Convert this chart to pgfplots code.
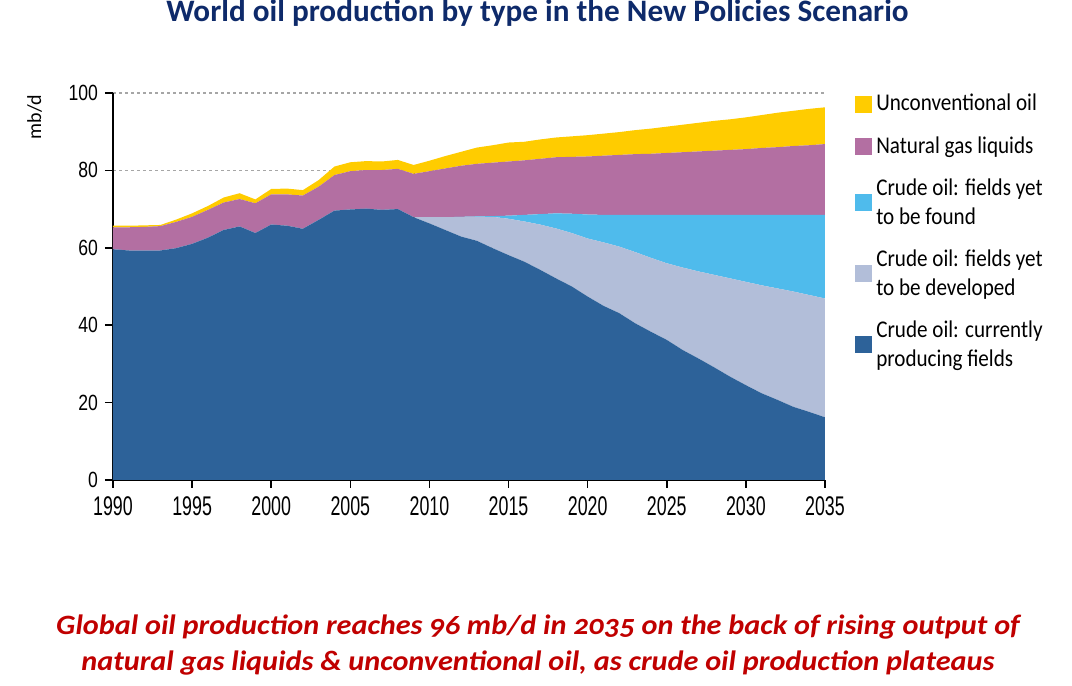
\documentclass[border=0pt]{standalone}
\usepackage{fontspec}
\setmainfont{Carlito}
\newfontfamily\ticksx[FakeStretch=0.66]{Liberation Sans}
\newfontfamily\ticksy[FakeStretch=0.8]{Liberation Sans}
\newfontfamily\legfont[FakeStretch=0.88]{Carlito}
\newfontfamily\capfont[Numbers=OldStyle,FakeStretch=1.08]{Carlito}
\newfontfamily\titfont[FakeStretch=1.0]{Carlito}
\usepackage{pgfplots}
\usepackage{pgfplotstable}
\pgfplotsset{compat=1.18}
\definecolor{cprod}{HTML}{2D6299}
\definecolor{cdev}{HTML}{B2BED9}
\definecolor{cfound}{HTML}{4FBBEC}
\definecolor{cngl}{HTML}{B36FA2}
\definecolor{cunc}{HTML}{FFCC00}
\definecolor{ctitle}{HTML}{0E2A6A}
\definecolor{ccap}{HTML}{C00000}

\pgfplotstableread{
year prod dev found ngl unconv
1990 59.6 0 0 5.7 0.4
1991 59.3 0 0 6.0 0.4
1992 59.3 0 0 6.1 0.4
1993 59.3 0 0 6.3 0.3
1994 59.9 0 0 6.8 0.6
1995 61.0 0 0 7.0 0.9
1996 62.6 0 0 7.2 1.0
1997 64.6 0 0 7.1 1.3
1998 65.5 0 0 7.1 1.5
1999 63.8 0 0 7.7 1.0
2000 66.0 0 0 7.8 1.4
2001 65.7 0 0 8.1 1.5
2002 64.9 0 0 8.6 1.4
2003 67.2 0 0 8.6 1.7
2004 69.6 0 0 9.2 2.2
2005 69.9 0 0 9.9 2.3
2006 70.1 0 0 10.0 2.3
2007 69.8 0 0 10.3 2.2
2008 70.0 0 0 10.4 2.3
2009 67.9 0 0 11.2 2.3
2010 66.3 1.6 0 11.9 2.7
2011 64.6 3.3 0 12.6 3.2
2012 62.9 5.1 0 13.2 3.6
2013 61.8 6.2 0.1 13.6 4.2
2014 59.9 8.1 0.2 13.8 4.5
2015 58.1 9.4 0.8 14.0 4.9
2016 56.4 10.4 1.7 14.1 4.8
2017 54.3 11.7 2.7 14.3 5.0
2018 52.1 12.9 3.9 14.5 5.1
2019 50.0 13.8 5.0 14.7 5.3
2020 47.4 15.0 6.2 15.0 5.5
2021 45.0 16.4 7.1 15.3 5.7
2022 43.1 17.2 8.2 15.5 5.9
2023 40.5 18.4 9.6 15.7 6.2
2024 38.3 19.1 11.1 15.8 6.5
2025 36.2 19.8 12.5 16.0 6.8
2026 33.6 21.3 13.6 16.2 7.1
2027 31.4 22.5 14.6 16.4 7.4
2028 29.1 23.9 15.5 16.6 7.7
2029 26.7 25.4 16.4 16.8 7.9
2030 24.5 26.7 17.3 17.0 8.2
2031 22.4 27.9 18.2 17.3 8.5
2032 20.7 28.8 19.0 17.5 8.9
2033 18.9 29.8 19.8 17.8 9.1
2034 17.6 30.2 20.7 18.0 9.4
2035 16.2 30.7 21.6 18.3 9.5
}\data

\begin{document}
\begin{tikzpicture}
\path[use as bounding box] (0pt,0pt) rectangle (536pt,343pt);
\begin{axis}[
  at={(56.5pt,103pt)}, anchor=south west,
  scale only axis, width=356pt, height=193.5pt,
  xmin=1990, xmax=2035, ymin=0, ymax=100,
  axis x line*=bottom, axis y line*=left,
  axis line style={black, line width=0.75pt},
  xtick={1990,1995,...,2035}, ytick={0,20,...,100},
  tick align=outside, major tick length=4pt,
  tick style={black, line width=0.75pt},
  /pgf/number format/assume math mode=true,
  /pgf/number format/set thousands separator={},
  xticklabel style={font=\ticksx\fontsize{13.5}{14}\selectfont, yshift=-1pt},
  yticklabel style={font=\ticksy\fontsize{11}{12}\selectfont},
  ymajorgrids,
  grid style={gray!70, line width=0.6pt, dash pattern=on 1.5pt off 1.5pt},
  ylabel={mb/d},
  ylabel style={font=\ticksy\fontsize{12}{13}\selectfont},
  every axis y label/.style={at={(axis description cs:-0.11,0.938)}, rotate=90, anchor=center},
  stack plots=y,
  reverse legend,
  legend cell align=left,
  legend style={at={(1.042,1.008)}, anchor=north west, draw=none, fill=none,
    inner sep=0pt, row sep=7.2pt,
    font=\legfont\fontsize{12}{14.5}\selectfont,
    nodes={align=left}},
  legend image code/.code={\fill[#1] (0pt,-4.25pt) rectangle (8.5pt,4.25pt);},
]
\addplot[fill=cprod, draw=none] table[x=year, y=prod]{\data} \closedcycle;
\addlegendentry{Crude oil: currently\\producing fields}
\addplot[fill=cdev, draw=none] table[x=year, y=dev]{\data} \closedcycle;
\addlegendentry{Crude oil: fields yet\\to be developed}
\addplot[fill=cfound, draw=none] table[x=year, y=found]{\data} \closedcycle;
\addlegendentry{Crude oil: fields yet\\to be found}
\addplot[fill=cngl, draw=none] table[x=year, y=ngl]{\data} \closedcycle;
\addlegendentry{Natural gas liquids}
\addplot[fill=cunc, draw=none] table[x=year, y=unconv]{\data} \closedcycle;
\addlegendentry{Unconventional oil}
\draw[black, line width=1pt] (axis cs:2009,0) -- (axis cs:2009,81.3);
\draw[black, line width=0.75pt] (axis cs:1990,0) -- (axis cs:2035,0);
\draw[black, line width=0.75pt] (axis cs:1990,0) -- (axis cs:1990,100);
\end{axis}
\node[font=\titfont\bfseries\fontsize{15.6}{17}\selectfont, text=ctitle] at (268.75pt,336.5pt) {World oil production by type in the New Policies Scenario};
\node[align=center, font=\capfont\bfseries\itshape\fontsize{14}{18}\selectfont, text=ccap] at (269pt,20.5pt)
  {Global oil production reaches 96 mb/d in 2035 on the back of rising output of\\natural gas liquids \& unconventional oil, as crude oil production plateaus};
\end{tikzpicture}
\end{document}
